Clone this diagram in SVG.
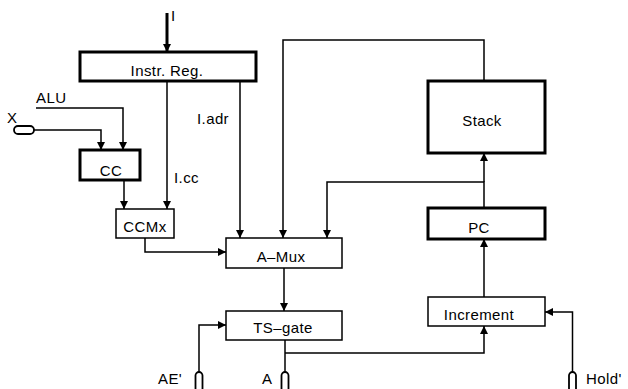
<svg xmlns="http://www.w3.org/2000/svg" width="628" height="389" viewBox="0 0 628 389">
<defs>
<style>
text{font-family:"Liberation Sans","DejaVu Sans",sans-serif;font-size:15px;fill:#000;letter-spacing:0.4px}
.c{text-anchor:middle}
.thick{fill:#fff;stroke:#000;stroke-width:3}
.thin{fill:#fff;stroke:#000;stroke-width:1.5}
.w{fill:none;stroke:#000;stroke-width:1.5}
.port{fill:#fff;stroke:#000;stroke-width:1.8}
</style>
<marker id="ah" viewBox="0 0 10 10" refX="10" refY="5" markerWidth="9" markerHeight="8" markerUnits="userSpaceOnUse" orient="auto">
<path d="M0,0 L10,5 L0,10 z" fill="#000"/>
</marker>
</defs>
<g id="connectors">
<line x1="167" y1="13" x2="167" y2="52" stroke="#000" stroke-width="3" marker-end="url(#ah)"/>
<polyline class="w" points="36,108 123,108 123,150" marker-end="url(#ah)"/>
<polyline class="w" points="34,130 101,130 101,150" marker-end="url(#ah)"/>
<line class="w" x1="124" y1="180" x2="124" y2="209" marker-end="url(#ah)"/>
<line class="w" x1="167" y1="81" x2="167" y2="209" marker-end="url(#ah)"/>
<line class="w" x1="240" y1="81" x2="240" y2="238" marker-end="url(#ah)"/>
<polyline class="w" points="484,81 484,40 283,40 283,238" marker-end="url(#ah)"/>
<polyline class="w" points="484,208 484,182 327,182 327,238" marker-end="url(#ah)"/>
<line class="w" x1="484" y1="182" x2="484" y2="153" marker-end="url(#ah)"/>
<polyline class="w" points="145,238 145,252 226,252" marker-end="url(#ah)"/>
<line class="w" x1="284" y1="268" x2="284" y2="311" marker-end="url(#ah)"/>
<polyline class="w" points="199,372 199,325 226,325" marker-end="url(#ah)"/>
<line class="w" x1="285" y1="340" x2="285" y2="372"/>
<polyline class="w" points="285,353 484,353 484,326" marker-end="url(#ah)"/>
<line class="w" x1="484" y1="297" x2="484" y2="239" marker-end="url(#ah)"/>
<polyline class="w" points="572.5,372 572.5,312 545,312" marker-end="url(#ah)"/>
</g>
<g id="instr_reg"><rect class="thick" x="80" y="52" width="176" height="29"/><text class="c" x="167" y="76">Instr. Reg.</text></g>
<g id="stack"><rect class="thick" x="428" y="81" width="117" height="72"/><text class="c" x="482" y="126">Stack</text></g>
<g id="cc"><rect class="thick" x="80" y="150" width="60" height="30"/><text class="c" x="111" y="176">CC</text></g>
<g id="ccmx"><rect class="thin" x="116" y="209" width="58" height="29"/><text class="c" x="145" y="232">CCMx</text></g>
<g id="pc"><rect class="thick" x="428" y="208" width="117" height="31"/><text class="c" x="479" y="233" font-size="13">PC</text></g>
<g id="amux"><rect class="thin" x="226" y="238" width="116" height="30"/><text class="c" x="281" y="262">A–Mux</text></g>
<g id="increment"><rect class="thin" x="428" y="297" width="117" height="29"/><text class="c" x="479" y="320">Increment</text></g>
<g id="tsgate"><rect class="thin" x="226" y="311" width="116" height="29"/><text class="c" x="283" y="333">TS–gate</text></g>
<g id="in_I"><text x="171" y="21" font-size="12">I</text></g>
<g id="in_ALU"><text x="36" y="103">ALU</text></g>
<g id="in_X"><text x="7" y="123">X</text><rect class="port" x="14" y="126" width="20" height="8" rx="4"/></g>
<g id="lbl_iadr"><text x="197" y="124">I.adr</text></g>
<g id="lbl_icc"><text x="174" y="183">I.cc</text></g>
<g id="in_AE"><text x="158" y="384">AE'</text><rect class="port" x="195.5" y="372" width="7" height="20" rx="3.5"/></g>
<g id="out_A"><text x="262" y="384">A</text><rect class="port" x="281.5" y="372" width="7" height="20" rx="3.5"/></g>
<g id="in_Hold"><rect class="port" x="569" y="372" width="7" height="20" rx="3.5"/><text x="586" y="384">Hold'</text></g>
</svg>
